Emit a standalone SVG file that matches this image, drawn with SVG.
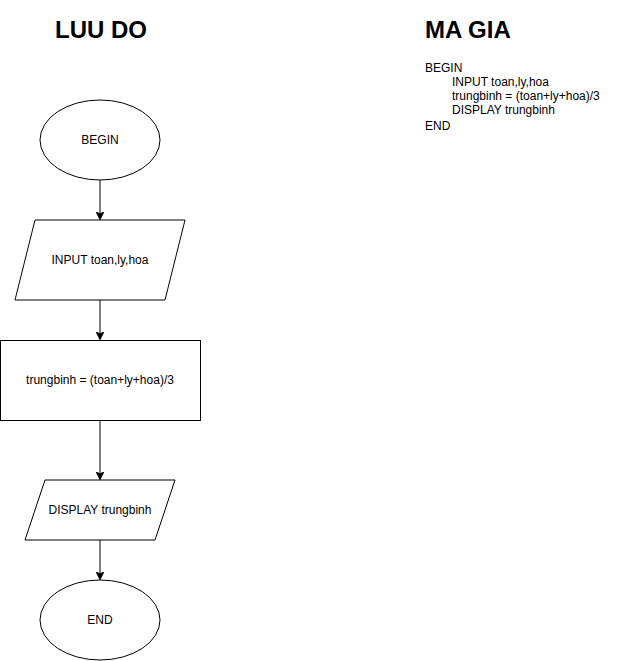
<svg xmlns="http://www.w3.org/2000/svg" width="631" height="661" viewBox="0 0 631 661">
  <style>
    .shape { fill: #ffffff; stroke: #000000; stroke-width: 1; }
    .label { font-family: "Liberation Sans", Arial, sans-serif; font-size: 12px; fill: #000000; text-anchor: middle; dominant-baseline: central; }
    .title { font-family: "Liberation Sans", Arial, sans-serif; font-size: 24px; font-weight: bold; fill: #000000; }
    .code { font-family: "Liberation Sans", Arial, sans-serif; font-size: 12px; fill: #000000; }
    .edge { fill: none; stroke: #000000; stroke-width: 1; }
  </style>
  <defs>
    <marker id="arrow" viewBox="0 0 10 10" refX="9" refY="5" markerWidth="8" markerHeight="8" markerUnits="userSpaceOnUse" orient="auto">
      <path d="M0,0 L10,5 L0,10 L2.5,5 Z" fill="#000000" stroke="#000000" stroke-width="1"/>
    </marker>
  </defs>
  <rect width="631" height="661" fill="#ffffff"/>

  <g id="title-flowchart">
    <text class="title" x="101" y="38" text-anchor="middle">LUU DO</text>
  </g>
  <g id="title-pseudocode">
    <text class="title" x="425" y="38">MA GIA</text>
  </g>

  <g id="pseudocode">
    <text class="code" x="425" y="72">BEGIN</text>
    <text class="code" x="452" y="86">INPUT toan,ly,hoa</text>
    <text class="code" x="452" y="100">trungbinh = (toan+ly+hoa)/3</text>
    <text class="code" x="452" y="114">DISPLAY trungbinh</text>
    <text class="code" x="425" y="130">END</text>
  </g>

  <g id="connectors">
    <path class="edge" d="M100,180 L100,219" marker-end="url(#arrow)"/>
    <path class="edge" d="M100,300 L100,339" marker-end="url(#arrow)"/>
    <path class="edge" d="M100,420 L100,479" marker-end="url(#arrow)"/>
    <path class="edge" d="M100,540 L100,579" marker-end="url(#arrow)"/>
  </g>

  <g id="node-begin">
    <ellipse class="shape" cx="100" cy="140" rx="60" ry="40"/>
    <text class="label" x="100" y="140">BEGIN</text>
  </g>
  <g id="node-input">
    <polygon class="shape" points="35,220 185,220 165,300 15,300"/>
    <text class="label" x="100" y="260">INPUT toan,ly,hoa</text>
  </g>
  <g id="node-compute">
    <rect class="shape" x="0.5" y="340.5" width="200" height="80"/>
    <text class="label" x="100" y="380">trungbinh = (toan+ly+hoa)/3</text>
  </g>
  <g id="node-display">
    <polygon class="shape" points="45,480 175,480 155,540 25,540"/>
    <text class="label" x="100" y="510">DISPLAY trungbinh</text>
  </g>
  <g id="node-end">
    <ellipse class="shape" cx="100" cy="620" rx="60" ry="40"/>
    <text class="label" x="100" y="620">END</text>
  </g>
</svg>
